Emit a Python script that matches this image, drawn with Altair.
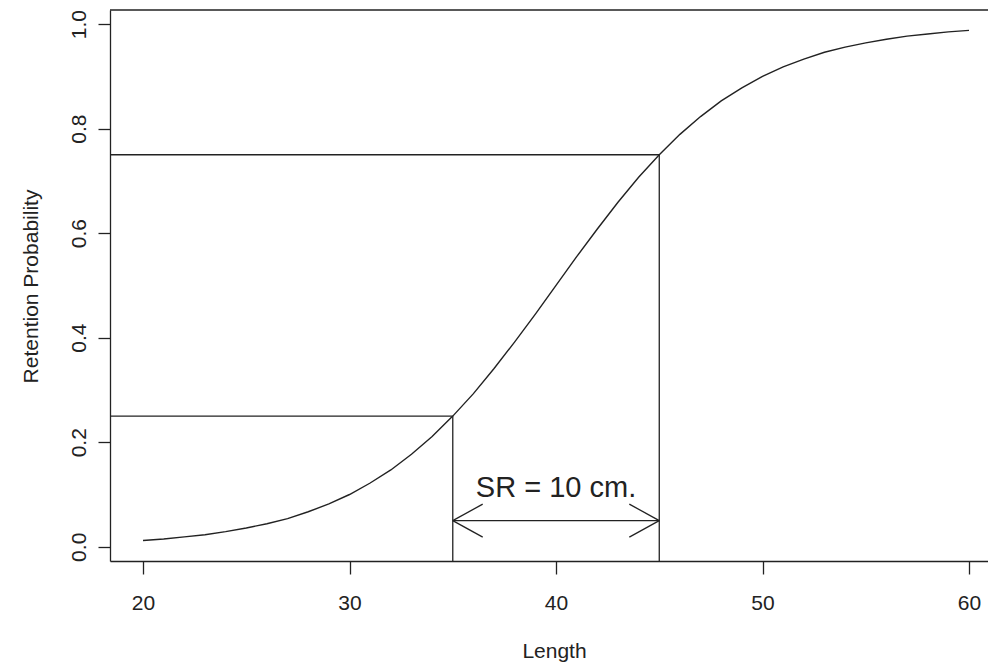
import altair as alt
import pandas as pd

# ---- data ----
length = list(range(20, 61))
retention = [0.012, 0.015, 0.019, 0.023, 0.029, 0.036, 0.044, 0.054, 0.067, 0.082,
             0.100, 0.122, 0.147, 0.177, 0.211, 0.250, 0.293, 0.341, 0.392, 0.445,
             0.500, 0.555, 0.608, 0.659, 0.707, 0.750, 0.789, 0.823, 0.853, 0.878,
             0.900, 0.918, 0.933, 0.946, 0.956, 0.964, 0.971, 0.977, 0.981, 0.985,
             0.988]

sel_length = [35, 45]          # L25 and L75
sel_prob = [0.25, 0.75]
arrow_level = 0.05
label_text = ["SR = 10 cm."]
label_x = [40]
label_y = [0.096]
x_ticks = [20, 30, 40, 50, 60]
y_ticks = [0.0, 0.2, 0.4, 0.6, 0.8, 1.0]

# ---- scales / layout ----
X_MIN, X_MAX = 18.4, 60.92
Y_MIN, Y_MAX = -0.0272, 1.0269
W, H = 878, 551
INK = "#222222"
FONT = "Liberation Sans"

xs = alt.Scale(domain=[X_MIN, X_MAX], nice=False, zero=False)
ys = alt.Scale(domain=[Y_MIN, Y_MAX], nice=False, zero=False)

x_axis = alt.Axis(values=x_ticks, title="Length", format="d",
                  tickSize=13, labelPadding=18,
                  titleBaseline="alphabetic", titleY=96, titleX=444,
                  titleAlign="center")
y_axis = alt.Axis(values=y_ticks, title="Retention Probability", format=".1f",
                  tickSize=12, labelAngle=270, labelAlign="center",
                  labelBaseline="alphabetic", labelPadding=13,
                  titleBaseline="alphabetic", titleX=-73, titleY=276,
                  titleAngle=270, titleAlign="center")


def X(field):
    return alt.X(field, scale=xs, axis=x_axis, title="Length")


def Y(field):
    return alt.Y(field, scale=ys, axis=y_axis, title="Retention Probability")


curve_df = pd.DataFrame({"Length": length, "p": retention})
curve = alt.Chart(curve_df).mark_line(color=INK, strokeWidth=1.4).encode(
    x=X("Length:Q"), y=Y("p:Q"))

# horizontal guide lines from left edge to L25 / L75
hdf = pd.DataFrame({"x0": [X_MIN, X_MIN], "x1": sel_length, "y": sel_prob})
hlines = alt.Chart(hdf).mark_rule(color=INK, strokeWidth=1.3).encode(
    x=X("x0:Q"), x2="x1:Q", y=Y("y:Q"))

# vertical guide lines from bottom to the curve
vdf = pd.DataFrame({"x": sel_length, "y0": [Y_MIN, Y_MIN], "y1": sel_prob})
vlines = alt.Chart(vdf).mark_rule(color=INK, strokeWidth=1.3).encode(
    x=X("x:Q"), y=Y("y0:Q"), y2="y1:Q")

# double arrow between L25 and L75
head_dx = 1.45
head_dy = 0.0316
a0, a1 = sel_length
adf = pd.DataFrame({
    "x0": [a0, a0, a0, a1, a1],
    "x1": [a1, a0 + head_dx, a0 + head_dx, a1 - head_dx, a1 - head_dx],
    "y0": [arrow_level] * 5,
    "y1": [arrow_level, arrow_level + head_dy, arrow_level - head_dy,
           arrow_level + head_dy, arrow_level - head_dy],
})
arrow = alt.Chart(adf).mark_rule(color=INK, strokeWidth=1.3).encode(
    x=X("x0:Q"), x2="x1:Q", y=Y("y0:Q"), y2="y1:Q")

ldf = pd.DataFrame({"t": label_text, "x": label_x, "y": label_y})
label = alt.Chart(ldf).mark_text(fontSize=29, font=FONT, color=INK,
                                 align="center", baseline="alphabetic").encode(
    x=X("x:Q"), y=Y("y:Q"), text="t:N")

top_border = alt.Chart(pd.DataFrame({"a": [0]})).mark_rule(
    color=INK, strokeWidth=1.3).encode(
    x=alt.value(0), x2=alt.value(W), y=alt.value(0))

chart = alt.layer(curve, hlines, vlines, arrow, label, top_border).properties(
    width=W, height=H,
    autosize=alt.AutoSizeParams(type="none"),
    padding={"left": 110, "top": 10, "right": 0, "bottom": 103},
    background="white",
).configure_view(stroke=None).configure_axis(
    grid=False, domainColor=INK, domainWidth=1.3, tickColor=INK, tickWidth=1.3,
    labelFont=FONT, labelFontSize=21, labelColor=INK,
    titleFont=FONT, titleFontSize=21, titleColor=INK, titleFontWeight="normal",
    labelFlush=False, labelOverlap=False,
)

chart.save("out.html", embed_options={"renderer": "svg", "actions": False})
